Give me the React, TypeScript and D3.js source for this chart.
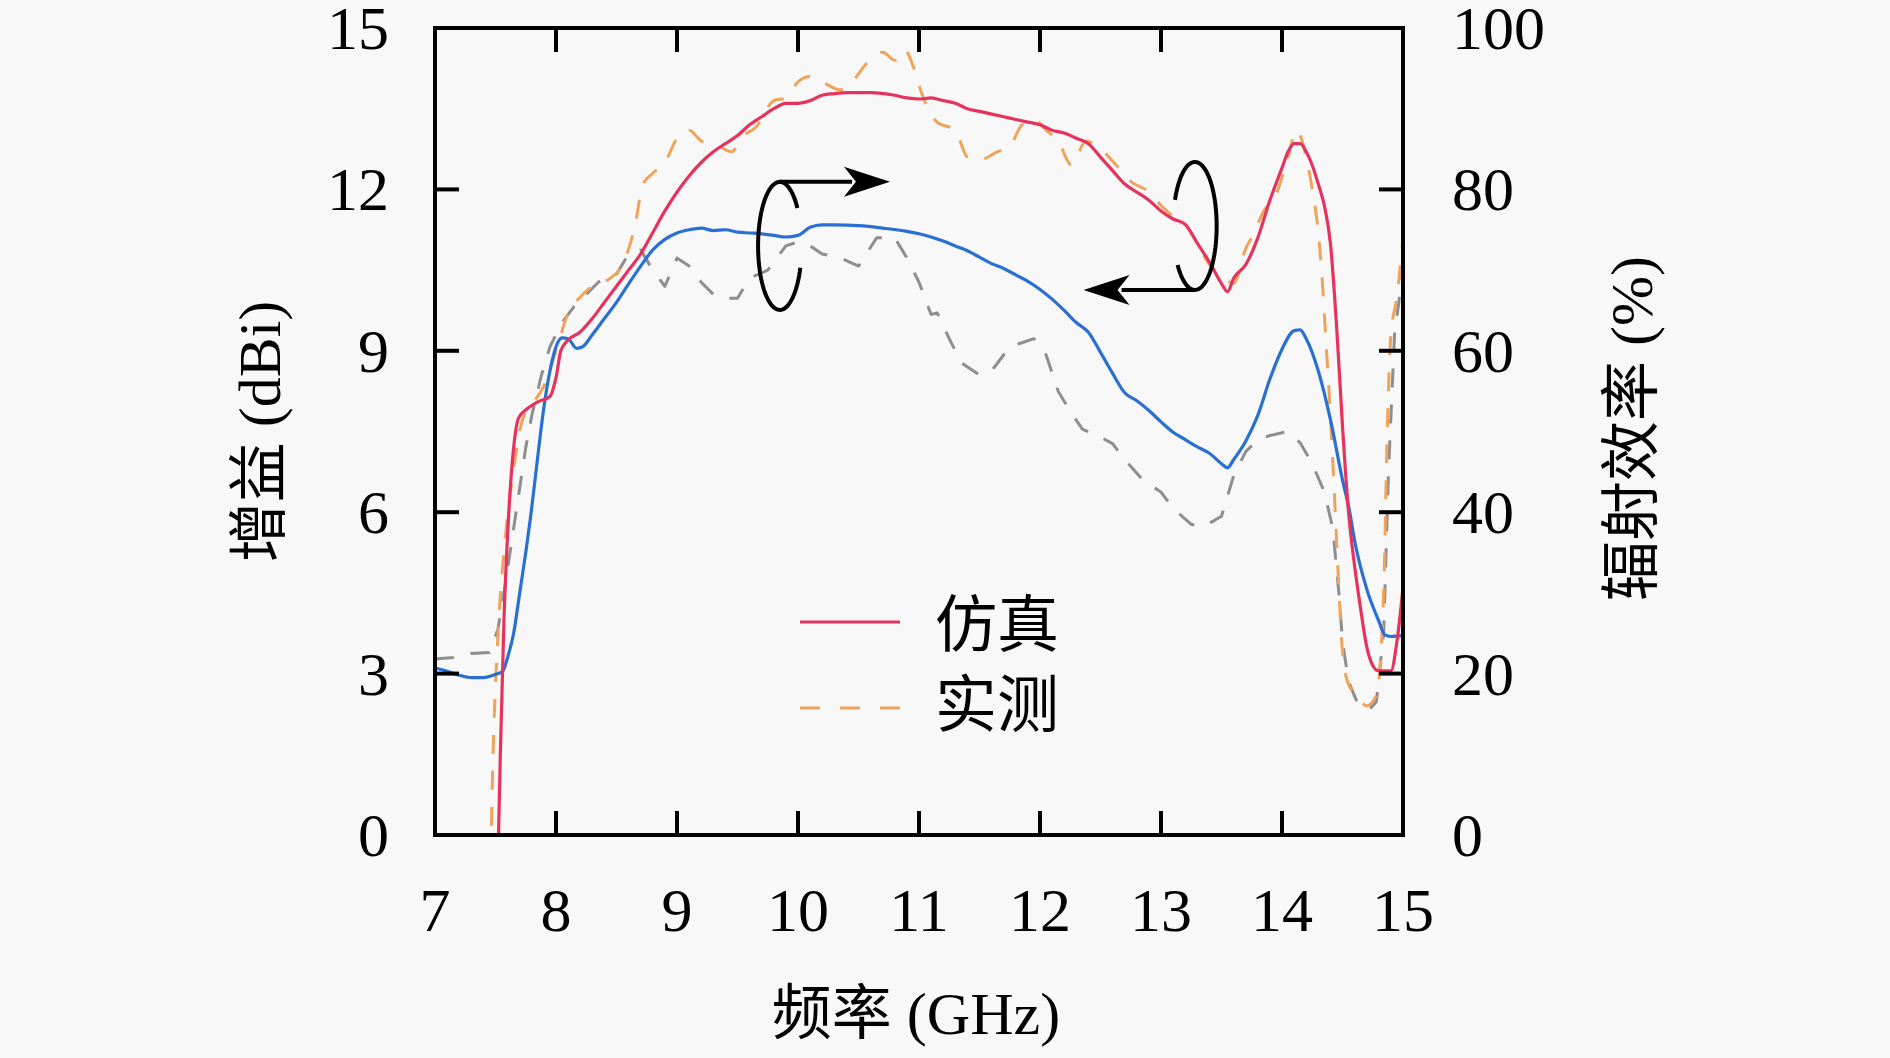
import React from "react";
import * as d3 from "d3";

// ---------- data ----------
const xTicks = [7, 8, 9, 10, 11, 12, 13, 14, 15];
const gainTicks = [0, 3, 6, 9, 12, 15];
const effTicks = [0, 20, 40, 60, 80, 100];

// simulated gain (dBi) [GHz, dBi]
const simGain: [number, number][] = [
  [7.52, -0.5], [7.54, 1.5], [7.57, 4.0], [7.61, 6.0], [7.65, 7.2], [7.69, 7.75], [7.75, 7.9],
  [7.85, 8.05], [7.95, 8.15], [8.0, 8.5], [8.04, 9.0], [8.1, 9.2], [8.2, 9.35], [8.3, 9.6],
  [8.4, 9.9], [8.5, 10.2], [8.6, 10.5], [8.7, 10.8], [8.8, 11.2], [8.9, 11.6], [9.0, 11.95],
  [9.1, 12.25], [9.2, 12.5], [9.3, 12.7], [9.4, 12.85], [9.5, 13.0], [9.6, 13.2], [9.7, 13.35],
  [9.8, 13.5], [9.9, 13.6], [10.0, 13.6], [10.1, 13.65], [10.2, 13.75], [10.3, 13.78],
  [10.4, 13.8], [10.6, 13.8], [10.8, 13.75], [10.9, 13.7], [11.0, 13.68], [11.1, 13.7],
  [11.2, 13.65], [11.3, 13.6], [11.4, 13.5], [11.5, 13.45], [11.6, 13.4], [11.7, 13.35],
  [11.8, 13.3], [11.9, 13.25], [12.0, 13.2], [12.1, 13.1], [12.2, 13.05], [12.3, 12.95],
  [12.4, 12.85], [12.5, 12.6], [12.6, 12.35], [12.7, 12.1], [12.8, 11.95], [12.9, 11.8],
  [13.0, 11.6], [13.1, 11.45], [13.2, 11.35], [13.3, 11.0], [13.4, 10.65], [13.5, 10.25],
  [13.55, 10.1], [13.6, 10.35], [13.7, 10.6], [13.8, 11.1], [13.9, 11.8], [14.0, 12.4],
  [14.05, 12.7], [14.1, 12.85], [14.15, 12.85], [14.2, 12.7], [14.25, 12.45], [14.3, 12.1],
  [14.35, 11.7], [14.4, 11.0], [14.45, 9.5], [14.5, 7.6], [14.55, 6.0], [14.6, 5.0],
  [14.65, 4.2], [14.7, 3.5], [14.75, 3.15], [14.8, 3.05], [14.9, 3.05], [14.95, 3.6], [15.0, 4.6],
];

// measured gain (dBi)
const measGain: [number, number][] = [
  [7.46, -0.5], [7.48, 1.5], [7.52, 3.7], [7.58, 5.5], [7.65, 6.8], [7.72, 7.7], [7.8, 8.0],
  [7.9, 8.35], [8.0, 9.0], [8.1, 9.7], [8.2, 10.0], [8.3, 10.2], [8.45, 10.35], [8.55, 10.6],
  [8.65, 11.3], [8.72, 12.1], [8.8, 12.3], [8.9, 12.5], [9.0, 12.95], [9.1, 13.1], [9.2, 12.9],
  [9.35, 12.8], [9.45, 12.7], [9.55, 13.0], [9.65, 13.15], [9.8, 13.65], [9.9, 13.7],
  [10.0, 14.0], [10.1, 14.1], [10.2, 14.0], [10.35, 13.85], [10.45, 14.0], [10.55, 14.3],
  [10.7, 14.55], [10.8, 14.4], [10.88, 14.6], [10.95, 14.3], [11.02, 13.8], [11.15, 13.25],
  [11.3, 13.1], [11.4, 12.6], [11.5, 12.55], [11.65, 12.7], [11.75, 12.8], [11.85, 13.2],
  [11.95, 13.3], [12.05, 13.1], [12.15, 12.9], [12.26, 12.45], [12.38, 12.9], [12.5, 12.75],
  [12.65, 12.4], [12.75, 12.15], [12.9, 11.95], [13.0, 11.7], [13.1, 11.5], [13.2, 11.35],
  [13.3, 11.0], [13.4, 10.6], [13.5, 10.4], [13.6, 10.25], [13.7, 10.9], [13.76, 11.15],
  [13.85, 11.6], [13.95, 11.9], [14.05, 12.6], [14.12, 13.1], [14.2, 12.6], [14.25, 12.0],
  [14.3, 11.2], [14.33, 10.4], [14.36, 9.3], [14.4, 7.8], [14.44, 6.0], [14.47, 4.6],
  [14.5, 3.4], [14.55, 2.8], [14.62, 2.6], [14.7, 2.4], [14.78, 2.6], [14.84, 4.5],
  [14.87, 7.5], [14.9, 9.3], [14.95, 10.0], [15.0, 11.1],
];

// simulated radiation efficiency (%)
const simEff: [number, number][] = [
  [7.0, 20.7], [7.1, 20.3], [7.2, 19.8], [7.3, 19.5], [7.4, 19.5], [7.5, 19.9], [7.56, 20.3],
  [7.6, 22], [7.65, 25], [7.7, 30], [7.75, 35], [7.79, 39.4], [7.85, 47], [7.9, 53],
  [7.95, 57.5], [8.0, 60.5], [8.05, 61.6], [8.1, 61.5], [8.17, 60.3], [8.22, 60.5], [8.3, 62],
  [8.4, 64], [8.5, 66], [8.6, 68.3], [8.7, 70.5], [8.8, 72.5], [8.9, 73.8], [9.0, 74.6],
  [9.1, 75], [9.2, 75.2], [9.3, 74.9], [9.4, 75.0], [9.5, 74.7], [9.6, 74.6], [9.7, 74.5],
  [9.8, 74.3], [9.9, 74.1], [10.0, 74.3], [10.1, 75.3], [10.2, 75.6], [10.3, 75.6],
  [10.5, 75.5], [10.7, 75.2], [10.9, 74.8], [11.0, 74.5], [11.1, 74.1], [11.2, 73.6],
  [11.3, 73], [11.4, 72.4], [11.5, 71.6], [11.6, 70.8], [11.7, 70.2], [11.8, 69.4],
  [11.9, 68.6], [12.0, 67.6], [12.1, 66.4], [12.2, 65.0], [12.3, 63.5], [12.4, 62.3],
  [12.5, 59.8], [12.6, 57.2], [12.7, 54.8], [12.8, 53.8], [12.9, 52.6], [13.0, 51.2],
  [13.1, 49.9], [13.2, 49.0], [13.3, 48.1], [13.4, 47.3], [13.5, 46], [13.55, 45.5],
  [13.6, 46.5], [13.7, 48.8], [13.8, 52], [13.9, 56.5], [14.0, 60.2], [14.1, 62.5],
  [14.15, 62.6], [14.2, 61.5], [14.3, 57.5], [14.4, 51.5], [14.5, 44], [14.56, 40],
  [14.6, 36.5], [14.7, 30.5], [14.8, 26.5], [14.85, 24.8], [14.9, 24.6], [15.0, 24.7],
];

// measured radiation efficiency (%)
const measEff: [number, number][] = [
  [7.0, 21.8], [7.15, 22], [7.3, 22.5], [7.45, 22.6], [7.52, 25.5], [7.58, 31], [7.63, 36],
  [7.68, 41], [7.75, 48], [7.8, 52], [7.88, 57], [7.95, 60.5], [8.05, 63.5], [8.15, 65.5],
  [8.25, 67], [8.35, 68.5], [8.5, 69.5], [8.6, 72], [8.7, 72.5], [8.8, 70], [8.9, 68],
  [9.0, 71.5], [9.1, 70.5], [9.2, 68.5], [9.3, 67], [9.4, 66.5], [9.5, 66.5], [9.6, 69],
  [9.75, 70], [9.9, 73], [10.0, 73.5], [10.1, 73], [10.2, 72], [10.35, 71.5], [10.5, 70.5],
  [10.65, 74], [10.8, 74], [10.9, 71.5], [11.0, 68.5], [11.1, 64.5], [11.15, 64.7],
  [11.25, 61.5], [11.35, 58.5], [11.5, 57], [11.6, 57.5], [11.75, 60.5], [11.85, 61],
  [11.95, 61.5], [12.05, 59.5], [12.15, 55], [12.25, 52.5], [12.35, 50.3], [12.5, 49.3],
  [12.6, 48.5], [12.7, 46.5], [12.85, 44], [13.0, 42.5], [13.1, 40.5], [13.25, 38.5],
  [13.35, 38.2], [13.5, 39.5], [13.6, 44.5], [13.7, 47.5], [13.8, 49], [13.9, 49.5],
  [14.05, 50], [14.15, 48.6], [14.25, 46], [14.35, 42.5], [14.42, 38], [14.47, 30],
  [14.5, 24], [14.55, 19], [14.62, 16.5], [14.72, 15.5], [14.78, 16.5], [14.84, 25],
  [14.88, 45], [14.93, 62], [15.0, 70],
];

// annotations in data coordinates (GHz, dBi)
const annoRight = { cx: 9.85, cy: 10.95, rx: 0.18, ry: 1.19, tipX: 10.76 };
const annoLeft = { cx: 13.28, cy: 11.32, rx: 0.18, ry: 1.19, tipX: 12.36 };

const legendItems = ["仿真", "实测"];

// ---------- layout ----------
const W = 1890;
const H = 1058;
const L = 435, R = 1403, T = 28, B = 835;

const COL_RED = "#e6335e";
const COL_BLUE = "#2a6fd2";
const COL_ORANGE = "#f0a35a";
const COL_GRAY = "#8e8e8e";
const FONT = "'Liberation Serif', 'Noto Sans CJK SC', serif";

export default function App() {
  const x = d3.scaleLinear().domain([7, 15]).range([L, R]);
  const yL = d3.scaleLinear().domain([0, 15]).range([B, T]);
  const yR = d3.scaleLinear().domain([0, 100]).range([B, T]);

  const lineG = d3.line<[number, number]>().x((d) => x(d[0])).y((d) => yL(d[1]));
  const lineE = d3.line<[number, number]>().x((d) => x(d[0])).y((d) => yR(d[1]));
  const lineGs = lineG.curve(d3.curveMonotoneX);
  const lineEs = d3.line<[number, number]>().x((d) => x(d[0])).y((d) => yR(d[1])).curve(d3.curveMonotoneX);

  const tickLen = 24;
  const fs = 62;

  function ellipseArc(a: typeof annoRight, t0: number, t1: number) {
    const cx = x(a.cx), cy = yL(a.cy);
    const rx = x(a.cx + a.rx) - cx, ry = cy - yL(a.cy + a.ry);
    const pts: [number, number][] = [];
    const n = 80;
    for (let i = 0; i <= n; i++) {
      const t = ((t0 + ((t1 - t0) * i) / n) * Math.PI) / 180;
      pts.push([cx + rx * Math.cos(t), cy + ry * Math.sin(t)]);
    }
    return d3.line()(pts) as string;
  }

  const a1cx = x(annoRight.cx), a1top = yL(annoRight.cy + annoRight.ry), a1tip = x(annoRight.tipX);
  const a2cx = x(annoLeft.cx), a2bot = yL(annoLeft.cy - annoLeft.ry), a2tip = x(annoLeft.tipX);
  const headL = 46, headW = 15;

  return (
    <div style={{ position: "absolute", left: 0, top: 0, width: W, height: H }}>
      <svg width={W} height={H} viewBox={`0 0 ${W} ${H}`} style={{ display: "block" }}>
        <rect x={0} y={0} width={W} height={H} fill="#f8f8f8" />
        <defs>
          <clipPath id="plot">
            <rect x={L} y={T} width={R - L} height={B - T} />
          </clipPath>
        </defs>

        {/* data lines */}
        <g clipPath="url(#plot)" fill="none" strokeLinejoin="round">
          <path d={lineE(measEff) as string} stroke={COL_GRAY} strokeWidth={3} strokeDasharray="19,17" />
          <path d={lineG(measGain) as string} stroke={COL_ORANGE} strokeWidth={3} strokeDasharray="19,17" />
          <path d={lineEs(simEff) as string} stroke={COL_BLUE} strokeWidth={3.2} />
          <path d={lineGs(simGain) as string} stroke={COL_RED} strokeWidth={3.2} />
        </g>

        {/* frame */}
        <rect x={L} y={T} width={R - L} height={B - T} fill="none" stroke="#000" strokeWidth={4} />

        {/* x ticks */}
        {xTicks.map((t) => (
          <g key={"x" + t}>
            <line x1={x(t)} x2={x(t)} y1={B} y2={B - tickLen} stroke="#000" strokeWidth={4} />
            <line x1={x(t)} x2={x(t)} y1={T} y2={T + tickLen} stroke="#000" strokeWidth={4} />
            <text x={x(t)} y={931} textAnchor="middle" fontFamily={FONT} fontSize={fs} fill="#000">
              {t}
            </text>
          </g>
        ))}
        {/* left ticks */}
        {gainTicks.map((t) => (
          <g key={"g" + t}>
            <line x1={L} x2={L + tickLen} y1={yL(t)} y2={yL(t)} stroke="#000" strokeWidth={4} />
            <text x={389} y={yL(t) + 21} textAnchor="end" fontFamily={FONT} fontSize={fs} fill="#000">
              {t}
            </text>
          </g>
        ))}
        {/* right ticks */}
        {effTicks.map((t) => (
          <g key={"e" + t}>
            <line x1={R} x2={R - tickLen} y1={yR(t)} y2={yR(t)} stroke="#000" strokeWidth={4} />
            <text x={1452} y={yR(t) + 21} textAnchor="start" fontFamily={FONT} fontSize={fs} fill="#000">
              {t}
            </text>
          </g>
        ))}

        {/* axis titles */}
        <text
          transform={`translate(280, ${(T + B) / 2}) rotate(-90)`}
          textAnchor="middle"
          fontFamily={FONT}
          fontSize={60}
          fill="#000"
        >
          增益 (dBi)
        </text>
        <text
          transform={`translate(1652, ${(T + B) / 2 - 3}) rotate(-90)`}
          textAnchor="middle"
          fontFamily={FONT}
          fontSize={60}
          fill="#000"
        >
          辐射效率 (%)
        </text>
        <text x={(L + R) / 2 - 3} y={1034} textAnchor="middle" fontFamily={FONT} fontSize={60} fill="#000">
          频率 (GHz)
        </text>

        {/* legend */}
        <line x1={800} x2={900} y1={622} y2={622} stroke={COL_RED} strokeWidth={3.2} />
        <text x={935} y={647} fontFamily={FONT} fontSize={62} fill="#000">
          {legendItems[0]}
        </text>
        <line x1={800} x2={900} y1={708} y2={708} stroke={COL_ORANGE} strokeWidth={3} strokeDasharray="20,20" />
        <text x={935} y={727} fontFamily={FONT} fontSize={62} fill="#000">
          {legendItems[1]}
        </text>

        {/* annotation: right-pointing (efficiency axis) */}
        <g fill="none" stroke="#000" strokeWidth={4}>
          <path d={ellipseArc(annoRight, 20, 323.6)} />
          <line x1={a1cx} y1={a1top} x2={a1tip - headL + 8} y2={a1top} />
          <path d={ellipseArc(annoLeft, 204, 502.4)} />
          <line x1={a2cx} y1={a2bot} x2={a2tip + headL - 8} y2={a2bot} />
        </g>
        <path
          d={`M${a1tip},${a1top} L${a1tip - headL},${a1top - headW} L${a1tip - headL + 12},${a1top} L${a1tip - headL},${a1top + headW} Z`}
          fill="#000"
        />
        <path
          d={`M${a2tip},${a2bot} L${a2tip + headL},${a2bot - headW} L${a2tip + headL - 12},${a2bot} L${a2tip + headL},${a2bot + headW} Z`}
          fill="#000"
        />
      </svg>
    </div>
  );
}
